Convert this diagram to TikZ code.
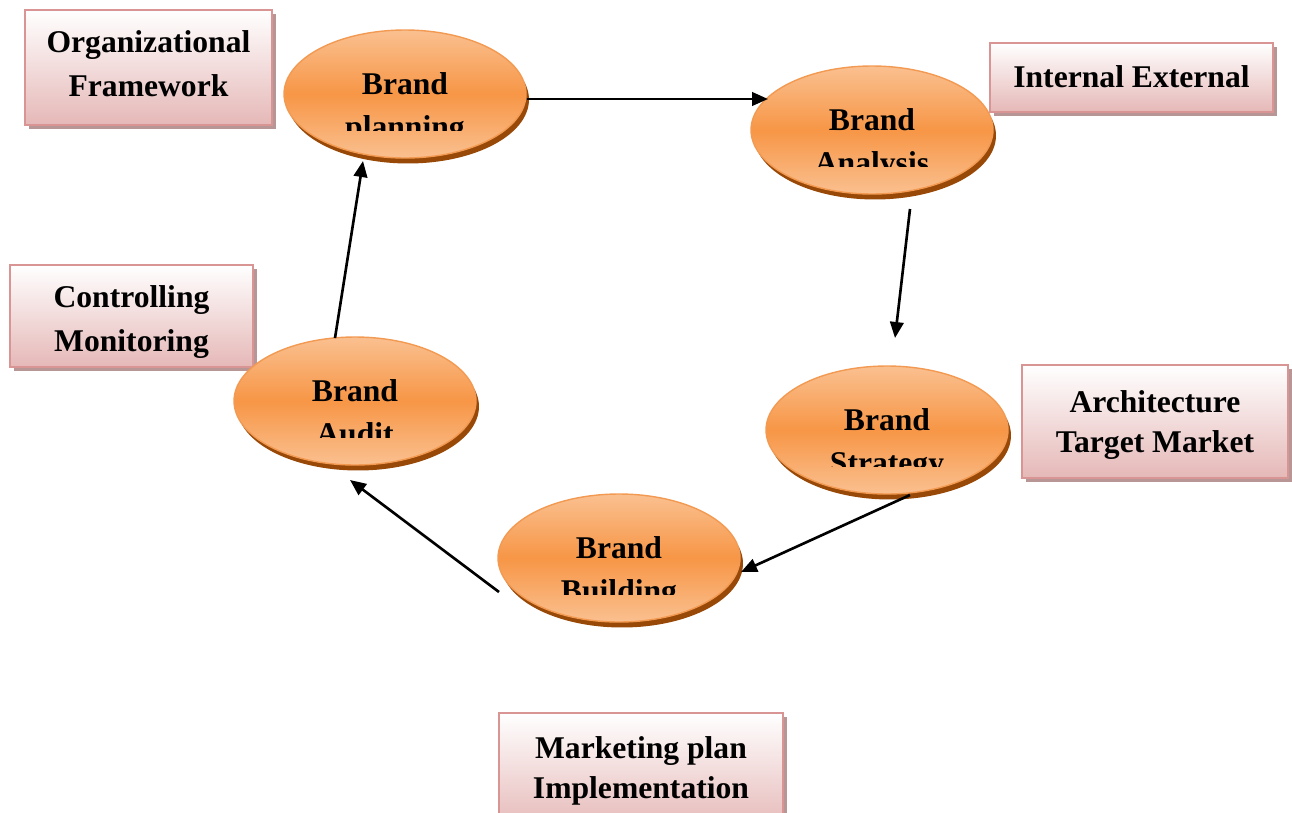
\documentclass[tikz,border=0pt]{standalone}
\usepackage{fontspec}
\setmainfont{Liberation Serif}
\usetikzlibrary{shapes.geometric,shadows,arrows.meta,calc}
\definecolor{orA}{HTML}{F79646}
\definecolor{orL}{HTML}{FAC090}
\definecolor{orD}{HTML}{984807}
\definecolor{orB}{HTML}{F39A52}
\definecolor{pkB}{HTML}{D99594}
\definecolor{pkL}{HTML}{E5B8B7}
\definecolor{pkS}{HTML}{B89696}
\tikzset{
  oval/.style={ellipse, minimum width=4.84cm, minimum height=2.56cm, inner sep=0pt,
    draw=orB, line width=0.8pt, top color=orL, bottom color=orL, middle color=orA,
    drop shadow={shadow xshift=0.06cm, shadow yshift=-0.11cm, fill=orD, opacity=1}},
  pbox/.style={rectangle, inner sep=0pt, draw=pkB, line width=1.4pt,
    top color=white, bottom color=pkL,
    drop shadow={shadow xshift=0.08cm, shadow yshift=-0.08cm, fill=pkS, opacity=1}},
  lbl/.style={font=\bfseries\fontsize{18}{20}\selectfont, inner sep=0pt, anchor=base},
  arr/.style={line width=1.5pt, -{Triangle[length=0.32cm,width=0.27cm]}}
}
\newcommand\myoval[4]{%
  \node[oval] (#1) at (#2,#3) {};
  \node[lbl] (#1t1) at (#1.center) {Brand};
  \begin{scope}
    \clip ($(#1.center)+(-121,-70)$) rectangle ($(#1.center)+(121,36)$);
    \node[lbl] (#1t2) at ($(#1.center)+(0,43)$) {#4};
  \end{scope}}
\begin{document}
\begin{tikzpicture}[x=0.02cm,y=-0.02cm]
\useasboundingbox (0,0) rectangle (1292,812);
% boxes
\node[pbox, minimum width=4.94cm, minimum height=2.30cm] (org) at (148.5,67.5) {};
\node[lbl] (orgA) at (148.5,52) {Organizational};
\node[lbl] (orgB) at (148.5,96) {Framework};
\node[pbox, minimum width=5.66cm, minimum height=1.38cm] (int) at (1131.5,77.5) {};
\node[lbl] (intA) at (1131.5,87) {Internal External};
\node[pbox, minimum width=4.86cm, minimum height=2.04cm] (ctl) at (131.5,316) {};
\node[lbl] (ctlA) at (131.5,307) {Controlling};
\node[lbl] (ctlB) at (131.5,351) {Monitoring};
\node[pbox, minimum width=5.32cm, minimum height=2.26cm] (arc) at (1155,421.5) {};
\node[lbl] (arcA) at (1155,412) {Architecture};
\node[lbl] (arcB) at (1155,452) {Target Market};
\node[pbox, minimum width=5.68cm, minimum height=2.34cm] (mkt) at (641,771.5) {};
\node[lbl] (mktA) at (641,758) {Marketing plan};
\node[lbl] (mktB) at (641,798) {Implementation};
% ovals
\myoval{pl}{405}{94}{planning}
\myoval{an}{872}{130}{Analysis}
\myoval{st}{887}{430}{Strategy}
\myoval{bu}{619}{558}{Building}
\myoval{au}{355}{401}{Audit}
% arrows
\coordinate (s1) at (527,99);  \coordinate (e1) at (768,99);
\coordinate (s2) at (910,209); \coordinate (e2) at (895,338);
\coordinate (s3) at (910,495); \coordinate (e3) at (741,572);
\coordinate (s4) at (499,592); \coordinate (e4) at (350,480);
\coordinate (s5) at (335,338); \coordinate (e5) at (363,161);
\draw[arr] (s1) -- (e1);
\draw[arr] (s2) -- (e2);
\draw[arr] (s3) -- (e3);
\draw[arr] (s4) -- (e4);
\draw[arr] (s5) -- (e5);
\end{tikzpicture}
\end{document}
